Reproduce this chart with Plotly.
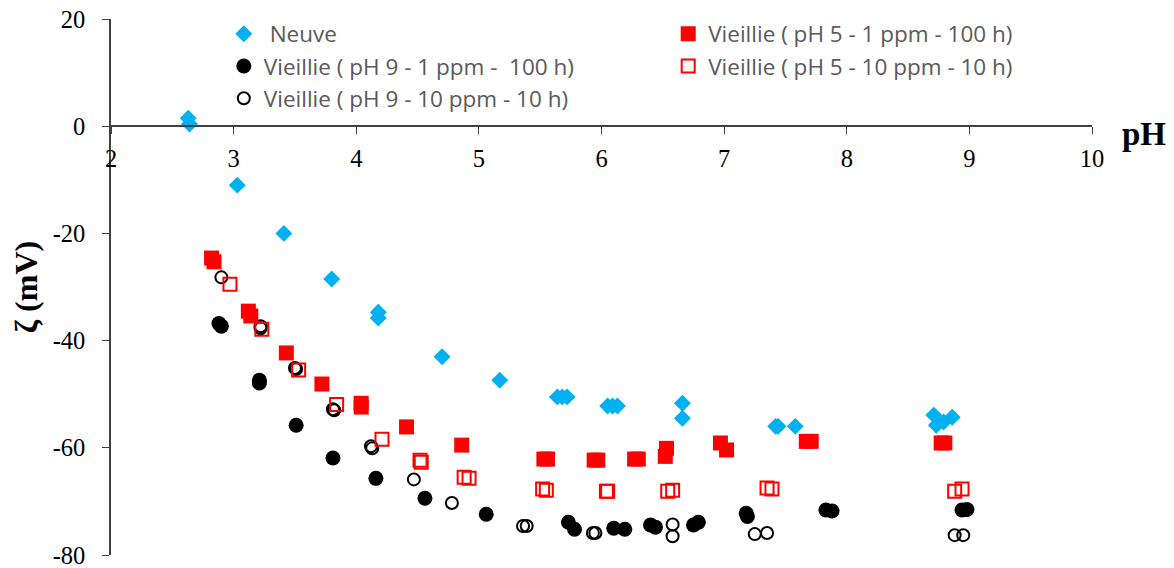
"""
plot.py
Zeta potential vs pH, new and aged samples.
"""

import plotly.graph_objects as go

# Neuve
ph_neuve = [2.63, 2.64, 3.03, 3.41, 3.80, 4.18, 4.18, 4.70, 5.17, 5.64, 5.68, 5.72,
            6.05, 6.09, 6.13, 6.66, 6.66, 7.42, 7.44, 7.58, 8.71, 8.73, 8.79, 8.86]
zeta_neuve = [1.5, 0.4, -11.0, -20.0, -28.5, -34.7, -35.8, -43.0, -47.4, -50.5, -50.5, -50.5,
              -52.2, -52.2, -52.2, -51.7, -54.5, -56.0, -56.0, -56.0, -53.9, -55.8, -55.2, -54.3]

# Vieillie (pH 5 - 1 ppm - 100 h)
ph_ph5_1 = [2.82, 2.84, 3.12, 3.14, 3.43, 3.72, 4.04, 4.04, 4.41, 4.86,
            5.53, 5.56, 5.94, 5.97, 6.27, 6.30, 6.53, 6.52, 6.97, 7.02, 7.67, 7.71, 8.77, 8.80]
zeta_ph5_1 = [-24.6, -25.3, -34.5, -35.4, -42.3, -48.1, -51.7, -52.4, -56.1, -59.5,
              -62.1, -62.1, -62.3, -62.3, -62.1, -62.1, -60.1, -61.6, -59.1, -60.4, -58.8, -58.8, -59.1, -59.1]

# Vieillie ( pH 9 - 1 ppm -  100 h)
ph_ph9_1 = [2.88, 2.90, 3.21, 3.21, 3.51, 3.81, 4.16, 4.56, 5.06, 5.73, 5.78,
            6.10, 6.19, 6.40, 6.44, 6.75, 6.79, 7.18, 7.19, 7.83, 7.88, 8.94, 8.98]
zeta_ph9_1 = [-36.8, -37.3, -47.4, -47.9, -55.8, -61.9, -65.7, -69.4, -72.4, -73.9, -75.2,
              -75.0, -75.2, -74.4, -74.8, -74.4, -73.9, -72.2, -72.8, -71.6, -71.8, -71.6, -71.5]

# Vieillie ( pH 5 - 10 ppm - 10 h)
ph_ph5_10 = [2.97, 3.23, 3.53, 3.84, 4.21, 4.52, 4.53, 4.88, 4.92, 5.52, 5.55,
             6.04, 6.05, 6.54, 6.58, 7.35, 7.39, 8.88, 8.94]
zeta_ph5_10 = [-29.5, -37.9, -45.5, -51.9, -58.4, -62.3, -62.7, -65.5, -65.7, -67.7, -67.9,
               -68.1, -68.1, -68.1, -67.9, -67.5, -67.7, -68.1, -67.7]

# Vieillie ( pH 9 - 10 ppm - 10 h)
ph_ph9_10 = [2.90, 3.22, 3.22, 3.50, 3.51, 3.81, 3.82, 4.12, 4.13, 4.47, 4.78,
             5.36, 5.39, 5.93, 5.95, 6.58, 6.58, 7.25, 7.35, 8.88, 8.95]
zeta_ph9_10 = [-28.2, -37.3, -37.7, -45.1, -45.3, -52.8, -53.0, -59.7, -60.1, -65.9, -70.3,
               -74.6, -74.6, -75.9, -75.9, -74.3, -76.5, -76.1, -75.9, -76.3, -76.3]

y_ticks = [20, 0, -20, -40, -60, -80]
x_ticks = [2, 3, 4, 5, 6, 7, 8, 9, 10]

BLUE = '#00B0F0'
RED = '#FF0000'

fig = go.Figure()

fig.add_trace(go.Scatter(
    x=ph_neuve, y=zeta_neuve, mode='markers', name=' Neuve',
    marker=dict(symbol='diamond', size=13, color=BLUE),
    legend='legend', legendgroup='a'
))
fig.add_trace(go.Scatter(
    x=ph_ph9_1, y=zeta_ph9_1, mode='markers', name='Vieillie ( pH 9 - 1 ppm -  100 h)',
    marker=dict(symbol='circle', size=15, color='black'),
    legend='legend', legendgroup='b'
))
fig.add_trace(go.Scatter(
    x=ph_ph9_10, y=zeta_ph9_10, mode='markers', name='Vieillie ( pH 9 - 10 ppm - 10 h)',
    marker=dict(symbol='circle-open', size=12, color='black', line=dict(width=2)),
    legend='legend', legendgroup='c'
))
fig.add_trace(go.Scatter(
    x=ph_ph5_1, y=zeta_ph5_1, mode='markers', name='Vieillie ( pH 5 - 1 ppm - 100 h)',
    marker=dict(symbol='square', size=15, color=RED),
    legend='legend2', legendgroup='d'
))
fig.add_trace(go.Scatter(
    x=ph_ph5_10, y=zeta_ph5_10, mode='markers', name='Vieillie ( pH 5 - 10 ppm - 10 h)',
    marker=dict(symbol='square-open', size=13, color=RED, line=dict(width=2)),
    legend='legend2', legendgroup='e'
))

legend_style = dict(
    yanchor='top', y=1.012, xanchor='left',
    bgcolor='rgba(0,0,0,0)',
    font=dict(family='Open Sans', size=22.5, color='#595959'),
    tracegroupgap=0, itemclick=False,
)

axis_font = dict(family='Liberation Serif', size=24.5, color='black')

# the page body adds an 8px offset, so the figure is drawn 8px smaller
fig.update_layout(
    width=1166, height=560,
    margin=dict(l=103, r=82, t=11, b=13, autoexpand=False),
    plot_bgcolor='white',
    paper_bgcolor='white',
    showlegend=True,
    legend=dict(x=0.115, **legend_style),
    legend2=dict(x=0.568, **legend_style),
    xaxis=dict(
        range=[2, 10], anchor='free', position=0.8, automargin=False,
        tickvals=x_ticks, ticktext=[str(v) for v in x_ticks],
        showline=True, linecolor='#404040', linewidth=1.5,
        ticks='outside', ticklen=7, tickcolor='#404040',
        ticklabelstandoff=4, ticklabeloverflow='allow',
        showgrid=False, zeroline=False, tickfont=axis_font,
    ),
    yaxis=dict(
        range=[-80, 20], automargin=False,
        tickvals=y_ticks, ticktext=[str(v) for v in y_ticks],
        showline=True, linecolor='#404040', linewidth=1.5,
        ticks='outside', ticklen=7, tickcolor='#404040',
        ticklabelstandoff=12, ticklabeloverflow='allow',
        showgrid=False, zeroline=False, tickfont=axis_font,
        title=dict(text='ζ (mV)', standoff=11,
                   font=dict(family='Liberation Serif', size=32, color='black', weight='bold')),
    ),
    annotations=[dict(
        text='<b>pH</b>', x=1.0, y=0, xref='paper', yref='y',
        xanchor='left', yanchor='middle', xshift=28, yshift=-8, showarrow=False,
        font=dict(family='Liberation Serif', size=33, color='black'),
    )],
)

fig.write_html("out.html")
